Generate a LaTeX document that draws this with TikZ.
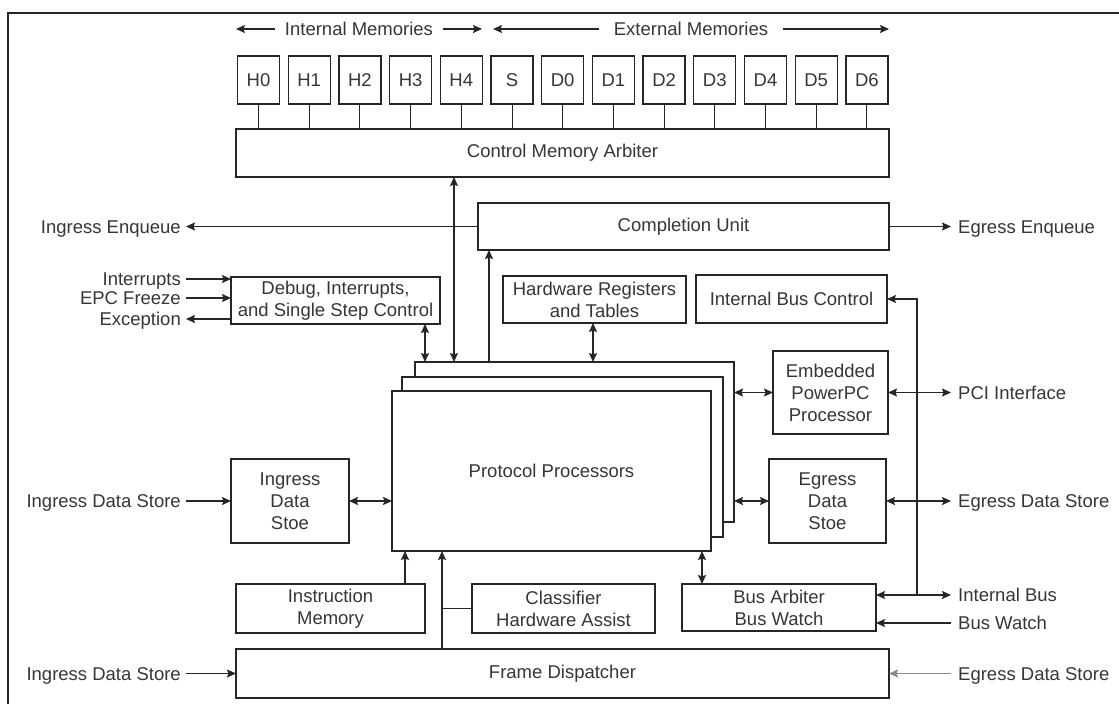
\documentclass[tikz,border=0pt]{standalone}
\usepackage{fontspec}
\setmainfont{Liberation Sans}
\usetikzlibrary{arrows.meta}
\definecolor{ink}{HTML}{262626}
\definecolor{txt}{HTML}{363636}
\definecolor{faint}{HTML}{8A8A8A}
\begin{document}
\begin{tikzpicture}[x=1pt,y=-1pt,
  font=\fontsize{18.5}{22}\selectfont,
  every node/.style={text=txt},
  blk/.style={draw=ink, line width=1.3pt, inner sep=0pt, outer sep=0pt, align=center, fill=white},
  lblL/.style={anchor=east, inner xsep=5pt, inner ysep=0pt, text height=13pt, text depth=0pt},
  lblR/.style={anchor=west, inner xsep=7pt, inner ysep=0pt, text height=13pt, text depth=0pt},
  wire/.style={draw=ink, line width=1.5pt},
  tip/.style={-{Stealth[length=9pt,width=8pt,inset=1.5pt]}},
  dbl/.style={{Stealth[length=9pt,width=8pt,inset=1.5pt]}-{Stealth[length=9pt,width=8pt,inset=1.5pt]}}
]
\fill[white] (0,0) rectangle (1119,704);
\useasboundingbox (0,0) rectangle (1119,704);

% outer frame
\draw[ink, line width=2pt] (8,704) -- (8,12.7) -- (1119,12.7);

% memory groups
\node[inner xsep=10pt, inner ysep=0pt, text height=13pt, text depth=0pt] (imem) at (359,29) {Internal Memories};
\node[inner xsep=15pt, inner ysep=0pt, text height=13pt, text depth=0pt] (xmem) at (691,29) {External Memories};
\coordinate (imL) at (236,29);
\coordinate (imR) at (482,29);
\coordinate (xmL) at (493,29);
\coordinate (xmR) at (889,29);
\draw[wire, line width=1.2pt, tip] (imem.west) -- (imL);
\draw[wire, line width=1.2pt, tip] (imem.east) -- (imR);
\draw[wire, line width=1.2pt, tip] (xmem.west) -- (xmL);
\draw[wire, line width=1.2pt, tip] (xmem.east) -- (xmR);

% control memory arbiter and memories
\node[blk, minimum width=653pt, minimum height=48pt] (cma) at (562.5,153) {Control Memory Arbiter};
\foreach \n [count=\i from 0] in {H0,H1,H2,H3,H4,S,D0,D1,D2,D3,D4,D5,D6} {
  \node[blk, minimum width=42pt, minimum height=48pt] (m\n) at ({258.5+50.7*\i},80) {\n};
  \draw[ink, line width=1pt] (m\n.south) -- (m\n.south |- cma.north);
}

% upper blocks
\node[blk, minimum width=411pt, minimum height=47pt] (cu) at (683.5,226.5) {Completion Unit};
\node[blk, minimum width=209pt, minimum height=47pt] (dbg) at (335.5,300.5) {Debug, Interrupts,\\and Single Step Control};
\node[blk, minimum width=183pt, minimum height=47pt] (hw) at (594.5,299.5) {Hardware Registers\\and Tables};
\node[blk, minimum width=191pt, minimum height=48pt] (ibc) at (791.5,299) {Internal Bus Control};
\node[blk, minimum width=115pt, minimum height=83pt] (ppc) at (830.5,392.5) {Embedded\\PowerPC\\Processor};

% stacked protocol processors
\node[blk, minimum width=319pt, minimum height=160pt] (pp3) at (574.5,442) {};
\node[blk, minimum width=321pt, minimum height=160pt] (pp2) at (562.5,457) {};
\node[blk, minimum width=319pt, minimum height=160pt] (pp1) at (551.5,471) {Protocol Processors};

% data stores and lower blocks
\node[blk, minimum width=118pt, minimum height=84pt] (ings) at (290,501) {Ingress\\Data\\Stoe};
\node[blk, minimum width=117pt, minimum height=84pt] (egs) at (827.5,501) {Egress\\Data\\Stoe};
\node[blk, minimum width=189pt, minimum height=49pt] (imm) at (330.5,608.5) {Instruction\\Memory};
\node[blk, minimum width=183pt, minimum height=49pt] (cls) at (563.5,608.5) {Classifier\\Hardware Assist};
\node[blk, minimum width=194pt, minimum height=47pt] (ba) at (779,607.5) {Bus Arbiter\\Bus Watch};
\node[blk, minimum width=653pt, minimum height=49pt] (fd) at (562.5,673.5) {Frame Dispatcher};

% outside labels
\node[lblL] (ie) at (186,226.5) {Ingress Enqueue};
\node[lblR] (ee) at (951,226.5) {Egress Enqueue};
\node[lblL] (intr) at (186,279) {Interrupts};
\node[lblL] (epc) at (186,298) {EPC Freeze};
\node[lblL] (exc) at (186,319) {Exception};
\node[lblR] (pci) at (951,392.5) {PCI Interface};
\node[lblL] (ids) at (186,501) {Ingress Data Store};
\node[lblR] (eds) at (951,501) {Egress Data Store};
\node[lblR] (ibus) at (951,595) {Internal Bus};
\node[lblR] (bw) at (951,623) {Bus Watch};
\node[lblL] (ids2) at (186,673.5) {Ingress Data Store};
\node[lblR] (eds2) at (951,673.5) {Egress Data Store};

% connector columns
\coordinate (xD) at (425,0);
\coordinate (xA) at (454,0);
\coordinate (xC) at (489,0);
\coordinate (xH) at (593,0);
\coordinate (xI) at (405,0);
\coordinate (xF) at (442,0);
\coordinate (xB) at (702,0);
\coordinate (ibT) at (917,299);
\coordinate (ibB) at (917,595);

% connectors
\draw[wire, dbl] (cma.south -| xA) -- (pp3.north -| xA);
\draw[wire, tip] (pp3.north -| xC) -- (cu.south -| xC);
\draw[wire, dbl] (dbg.south -| xD) -- (pp3.north -| xD);
\draw[wire, dbl] (hw.south -| xH) -- (pp3.north -| xH);
\draw[wire, dbl] (pp3.east |- ppc.west) -- (ppc.west);
\draw[wire, dbl] (pp3.east |- egs.west) -- (egs.west);
\draw[wire, dbl] (ings.east) -- (pp1.west |- ings.east);
\draw[wire, tip] (imm.north -| xI) -- (pp1.south -| xI);
\draw[wire, tip] (fd.north -| xF) -- (pp1.south -| xF);
\draw[wire] (cls.west) -- (cls.west -| xF);
\draw[wire, dbl] (pp1.south -| xB) -- (ba.north -| xB);

\draw[wire, tip] (cu.west) -- (ie.east);
\draw[wire, tip] (cu.east) -- (ee.west);
\draw[wire, tip] (intr.east) -- (intr.east -| dbg.west);
\draw[wire, tip] (epc.east) -- (epc.east -| dbg.west);
\draw[wire, tip] (exc.east -| dbg.west) -- (exc.east);

\draw[wire, line width=1.1pt, tip] (ibB) -- (ibT) -- (ibc.east |- ibT);
\draw[wire, dbl] (ibus.west -| ba.east) -- (ibus.west);
\draw[wire, tip] (bw.west) -- (bw.west -| ba.east);
\draw[wire, dbl] (ppc.east) -- (pci.west);
\draw[wire, dbl] (egs.east) -- (eds.west);
\draw[wire, tip] (ids.east) -- (ings.west);
\draw[wire, tip] (ids2.east) -- (fd.west);
\draw[wire, draw=faint, tip] (eds2.west) -- (fd.east);
\end{tikzpicture}
\end{document}
